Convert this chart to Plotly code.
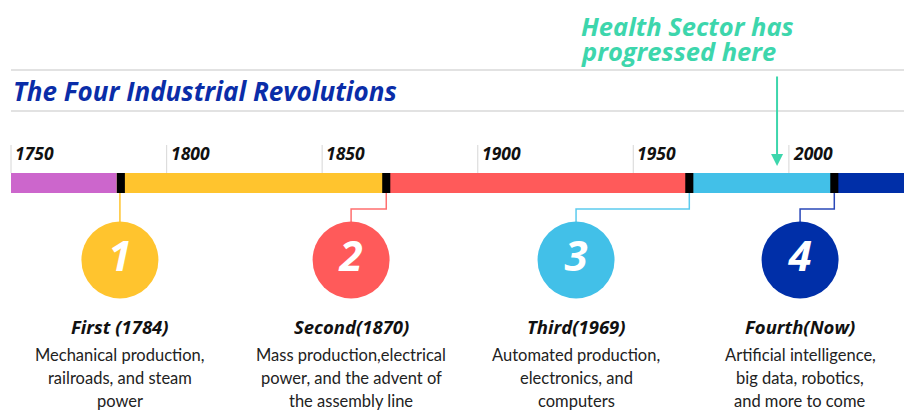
import plotly.graph_objects as go

# ---- data ----
era_starts = [1750, 1784, 1870, 1968, 2014]
era_ends = [1784, 1870, 1968, 2014, 2037]
era_colors = ["#CC66CC", "#FFC42E", "#FF5A5A", "#42C0E8", "#002FA8"]
revolution_years = [1785.3, 1870.6, 1968.0, 2014.6]
tick_years = [1750, 1800, 1850, 1900, 1950, 2000]
numbers = ["1", "2", "3", "4"]
headings = ["First (1784)", "Second(1870)", "Third(1969)", "Fourth(Now)"]
descriptions = [
    ["Mechanical production,", "railroads, and steam", "power"],
    ["Mass production,electrical", "power, and the advent of", "the assembly line"],
    ["Automated production,", "electronics, and", "computers"],
    ["Artificial intelligence,", "big data, robotics,", "and more to come"],
]
circle_colors = ["#FFC42E", "#FF5A5A", "#42C0E8", "#002FA8"]
line_colors = ["#FFC42E", "#FF6F6F", "#5CCBEE", "#2A48B8"]
health_year = 1996.2
health_lines = ["Health Sector has", "progressed here"]
title_text = "The Four Industrial Revolutions"

# ---- layout constants (pixel y coordinates, year-based x) ----
circle_x = [1785.0, 1859.3, 1931.6, 2003.6]
BAR_Y, BAR_H = 183, 20
CIRCLE_Y = 260
ELBOW_Y = 209
X0, X1 = 1746.46, 2037.0

fig = go.Figure()

# era bars
fig.add_trace(go.Bar(
    y=[BAR_Y] * len(era_starts), base=era_starts,
    x=[e - s for s, e in zip(era_starts, era_ends)],
    orientation="h", width=BAR_H, marker=dict(color=era_colors, line_width=0),
    hoverinfo="skip", showlegend=False))
# black markers
fig.add_trace(go.Bar(
    y=[BAR_Y] * len(revolution_years), base=[y - 1.3 for y in revolution_years],
    x=[2.6] * len(revolution_years),
    orientation="h", width=BAR_H, marker=dict(color="black", line_width=0),
    hoverinfo="skip", showlegend=False))

# connectors
for i, yr in enumerate(revolution_years):
    cx = circle_x[i]
    if i == 0:
        xs, ys = [cx, cx], [BAR_Y + BAR_H / 2, CIRCLE_Y]
    else:
        xs = [yr, yr, cx, cx]
        ys = [BAR_Y + BAR_H / 2, ELBOW_Y, ELBOW_Y, CIRCLE_Y]
    fig.add_trace(go.Scatter(x=xs, y=ys, mode="lines",
                             line=dict(color=line_colors[i], width=1.5),
                             hoverinfo="skip", showlegend=False))

# circles
fig.add_trace(go.Scatter(
    x=circle_x, y=[CIRCLE_Y] * 4, mode="markers+text",
    marker=dict(size=77, color=circle_colors, line_width=0),
    text=[f"<b><i>{n}</i></b>" for n in numbers],
    textposition="middle center",
    textfont=dict(family="Open Sans", size=42, color="white"),
    hoverinfo="skip", showlegend=False))

annotations = []
shapes = []

# headings & descriptions
for i in range(4):
    annotations.append(dict(x=circle_x[i], y=326, xref="x", yref="y",
                            text=f"<b><i>{headings[i]}</i></b>", showarrow=False,
                            font=dict(family="Open Sans", size=18.5, color="#111")))
    for j, line in enumerate(descriptions[i]):
        annotations.append(dict(x=circle_x[i], y=355 + 23 * j, xref="x", yref="y",
                                text=line, showarrow=False,
                                font=dict(family="Lato", size=16.5, color="#222")))

# ticks
for t in tick_years:
    shapes.append(dict(type="line", xref="x", yref="y", x0=t, x1=t, y0=145, y1=BAR_Y - BAR_H / 2,
                       line=dict(color="#DDDDDD", width=1.2), layer="below"))
    annotations.append(dict(x=t, y=153, xref="x", yref="y", xanchor="left", xshift=2,
                            text=f"<b><i>{t}</i></b>", showarrow=False,
                            font=dict(family="Open Sans", size=17.5, color="#111")))

# title lines
for yy in (70, 111):
    shapes.append(dict(type="line", xref="x", yref="y", x0=1750, x1=X1, y0=yy, y1=yy,
                       line=dict(color="#D9D9D9", width=1.5), layer="below"))

annotations.append(dict(x=1750, y=91, xref="x", yref="y", xanchor="left",
                        text=f"<b><i>{title_text}</i></b>", showarrow=False,
                        font=dict(family="Open Sans", size=26, color="#0A2DA8")))

for j, line in enumerate(health_lines):
    annotations.append(dict(x=health_year - 63.6, y=26 + 25 * j, xref="x", yref="y",
                            xanchor="left", text=f"<b><i>{line}</i></b>",
                            showarrow=False,
                            font=dict(family="Open Sans", size=25.5, color="#3DD6AC")))

annotations.append(dict(x=health_year, y=166, xref="x", yref="y",
                        ax=health_year, ay=75, axref="x", ayref="y",
                        showarrow=True, arrowhead=2, arrowsize=1.2, arrowwidth=2,
                        arrowcolor="#3DD6AC", text=""))

fig.update_layout(
    width=904, height=410, margin=dict(l=0, r=0, t=0, b=0),
    paper_bgcolor="white", plot_bgcolor="white", barmode="overlay",
    xaxis=dict(range=[X0, X1], visible=False, fixedrange=True),
    yaxis=dict(range=[410, 0], visible=False, fixedrange=True),
    annotations=annotations, shapes=shapes, showlegend=False,
)

fig.write_html("out.html", config={"displayModeBar": False},
               post_script="document.body.style.margin='0';document.body.style.overflow='hidden';")
